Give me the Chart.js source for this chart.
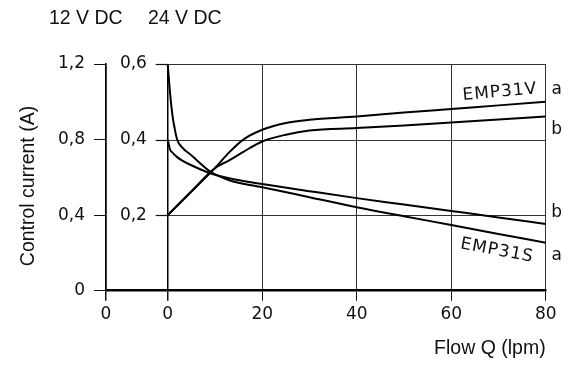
<!DOCTYPE html>
<html>
<head>
<meta charset="utf-8">
<script src="https://cdn.jsdelivr.net/npm/chart.js@4.4.1/dist/chart.umd.min.js"></script>
<style>
  html, body { margin: 0; padding: 0; background: #fff; }
</style>
</head>
<body>
<canvas id="myChart" width="569" height="367"></canvas>
<script>
// values, current on the 12 V DC scale (A)
const risingFlow = [0, 5, 10, 13, 16, 20, 25, 30, 40, 50, 60, 70, 80]
const emp31Va = [0.40, 0.525, 0.649, 0.732, 0.80, 0.852, 0.888, 0.905, 0.922, 0.943, 0.962, 0.981, 1.0]
const emp31Vb = [0.40, 0.525, 0.649, 0.69, 0.735, 0.79, 0.826, 0.848, 0.861, 0.875, 0.890, 0.906, 0.922]

const fallingFlow = [0, 0.5, 1, 1.5, 2, 3, 5, 9, 13, 20, 30, 40, 50, 60, 70, 80]
const emp31Sa = [1.2, 1.046, 0.93, 0.855, 0.80, 0.76, 0.717, 0.631, 0.585, 0.548, 0.495, 0.442, 0.394, 0.348, 0.30, 0.254]
const emp31Sb = [0.8, 0.746, 0.732, 0.718, 0.707, 0.69, 0.664, 0.622, 0.595, 0.565, 0.527, 0.49, 0.456, 0.422, 0.388, 0.353]

const xTicks = [-13.06, 0, 20, 40, 60, 80]
const xTickLabels = ["0", "0", "20", "40", "60", "80"]
const y12Ticks = [0, 0.4, 0.8, 1.2]
const y12TickLabels = ["0", "0,4", "0,8", "1,2"]
const y24Ticks = [0.2, 0.4, 0.6]
const y24TickLabels = ["0,2", "0,4", "0,6"]

const voltageLabels = ["12 V DC", "24 V DC"]
const yTitle = "Control current (A)"
const xTitle = "Flow Q (lpm)"

const ink = "#111"
const tickFont = { family: "'DejaVu Sans', sans-serif", size: 17 }
const textFont = "19.5px 'Liberation Sans', Arial, sans-serif"

function points(xs, ys) {
    return xs.map((v, i) => ({ x: v, y: ys[i] }))
}

function valueAt(xs, ys, at) {
    for (let i = 1; i < xs.length; i++) {
        if (at <= xs[i]) {
            const t = (at - xs[i - 1]) / (xs[i] - xs[i - 1])
            return ys[i - 1] + t * (ys[i] - ys[i - 1])
        }
    }
    return ys[ys.length - 1]
}

const curves = [
    { name: "EMP31V", code: "a", xs: risingFlow, ys: emp31Va, shift: -12 },
    { name: "EMP31V", code: "b", xs: risingFlow, ys: emp31Vb, shift: 13 },
    { name: "EMP31S", code: "b", xs: fallingFlow, ys: emp31Sb, shift: -11 },
    { name: "EMP31S", code: "a", xs: fallingFlow, ys: emp31Sa, shift: 13 }
]

const decor = {
    id: "decor",
    beforeDatasetsDraw(chart) {
        // 24 V ticks + horizontal grid, only right of the 24 V axis
        const { ctx, chartArea, scales } = chart
        const x0 = scales.x.getPixelForValue(0)
        ctx.save()
        y24Ticks.forEach(v => {
            const py = Math.round(scales.y2.getPixelForValue(v)) + 0.5
            ctx.strokeStyle = "#111"
            ctx.lineWidth = 1.2
            ctx.beginPath()
            ctx.moveTo(x0 - 12, py)
            ctx.lineTo(x0, py)
            ctx.stroke()
            ctx.strokeStyle = "#333"
            ctx.lineWidth = 1
            ctx.beginPath()
            ctx.moveTo(x0, py)
            ctx.lineTo(chartArea.right, py)
            ctx.stroke()
        })
        ctx.restore()
    },
    afterDraw(chart) {
        const { ctx, chartArea, scales } = chart
        ctx.save()
        ctx.fillStyle = ink
        ctx.font = textFont
        ctx.textBaseline = "alphabetic"
        ctx.textAlign = "left"
        ctx.fillText(voltageLabels[0], 49, 24)
        ctx.fillText(voltageLabels[1], 148, 24)

        ctx.save()
        ctx.translate(33.5, 186)
        ctx.rotate(-Math.PI / 2)
        ctx.textAlign = "center"
        ctx.fillText(yTitle, 0, 0)
        ctx.restore()

        // a / b at the right end of each curve
        ctx.font = "17px 'DejaVu Sans', sans-serif"
        ctx.textAlign = "center"
        ctx.textBaseline = "middle"
        curves.forEach(c => {
            const py = scales.y.getPixelForValue(c.ys[c.ys.length - 1]) + c.shift
            ctx.fillText(c.code, chartArea.right + 11, py)
        })

        // curve names
        ctx.letterSpacing = "1px"
        const names = [
            { curve: curves[0], at: 70.3, shift: -13, angle: -5 },
            { curve: curves[3], at: 69.7, shift: 17, angle: 10.5 }
        ]
        names.forEach(n => {
            const px = scales.x.getPixelForValue(n.at)
            const py = scales.y.getPixelForValue(valueAt(n.curve.xs, n.curve.ys, n.at)) + n.shift
            ctx.save()
            ctx.translate(px, py)
            ctx.rotate(n.angle * Math.PI / 180)
            ctx.fillText(n.curve.name, 0, 0)
            ctx.restore()
        })
        ctx.restore()
    }
}

const ctx = document.querySelector("#myChart")

new Chart(ctx, {
    type: "line",
    data: {
        datasets: curves.map(c => ({
            label: c.name + " " + c.code,
            data: points(c.xs, c.ys),
            borderColor: "#000",
            borderWidth: 2,
            pointRadius: 0,
            cubicInterpolationMode: "monotone",
            yAxisID: "y"
        }))
    },
    options: {
        responsive: false,
        animation: false,
        devicePixelRatio: 1,
        layout: { padding: { top: 64, right: 23.3, bottom: 0, left: 0 } },
        plugins: {
            legend: { display: false },
            tooltip: { enabled: false }
        },
        scales: {
            x: {
                type: "linear",
                min: xTicks[0],
                max: 80,
                afterBuildTicks: s => { s.ticks = xTicks.map(v => ({ value: v })) },
                afterFit: s => { s.height = 76.3 },
                grid: {
                    color: c => (c.tick && c.tick.value <= 0 ? "#000" : "#333"),
                    lineWidth: c => (c.tick && c.tick.value <= 0 ? 1.5 : 1),
                    tickLength: 10,
                    tickColor: "#111"
                },
                border: { color: "#000", width: 2.5 },
                ticks: {
                    color: ink,
                    font: tickFont,
                    padding: 4,
                    maxRotation: 0,
                    autoSkip: false,
                    callback: (v, i) => xTickLabels[i]
                },
                title: {
                    display: true,
                    text: xTitle,
                    align: "end",
                    color: ink,
                    font: { family: "'Liberation Sans', Arial, sans-serif", size: 19.5 },
                    padding: { top: 0, bottom: 7 }
                }
            },
            y: {
                type: "linear",
                position: "left",
                min: 0,
                max: 1.2,
                afterBuildTicks: s => { s.ticks = y12Ticks.map(v => ({ value: v })) },
                afterFit: s => { s.width = 106 },
                grid: { drawOnChartArea: false, tickLength: 12, color: "#111" },
                border: { color: "#000", width: 1.5 },
                ticks: {
                    color: ink,
                    font: tickFont,
                    padding: 9,
                    callback: (v, i) => y12TickLabels[i]
                }
            },
            y2: {
                // labels only; the 24 V axis line is the x grid line at 0
                type: "linear",
                position: { x: -4.4 },
                min: 0,
                max: 0.6,
                afterBuildTicks: s => { s.ticks = y24Ticks.map(v => ({ value: v })) },
                grid: { display: false },
                border: { display: false },
                ticks: {
                    color: ink,
                    font: tickFont,
                    callback: (v, i) => y24TickLabels[i]
                }
            }
        }
    },
    plugins: [decor]
})
</script>
</body>
</html>
